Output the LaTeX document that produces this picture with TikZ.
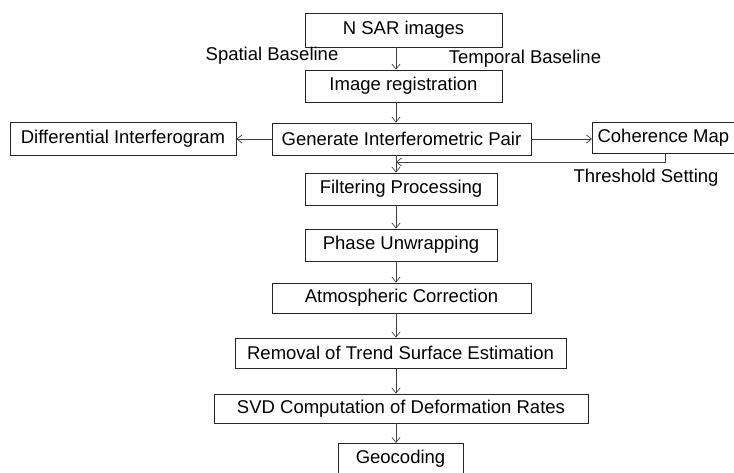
\documentclass[tikz,border=0pt]{standalone}
\usepackage{fontspec}
\setmainfont{Liberation Sans}
\usetikzlibrary{arrows.meta}
\begin{document}
\begin{tikzpicture}[x=1pt,y=-1pt,
  box/.style={draw=black!85,line width=0.8pt,inner sep=0pt,font=\fontsize{18.5}{20}\selectfont},
  lbl/.style={inner sep=0pt,font=\fontsize{18.5}{20}\selectfont},
  arr/.style={draw=black!75,line width=0.7pt,-{Straight Barb[length=5pt,width=8pt,line width=0.7pt]}}]
\useasboundingbox (0,0) rectangle (734,472);
\node[box,minimum width=197pt,minimum height=34pt] (n1) at (403.5,30) {N SAR images};
\node[box,minimum width=197pt,minimum height=32pt] (n2) at (403.5,86) {Image registration};
\node[box,minimum width=259pt,minimum height=32pt] (n3) at (401.5,139) {Generate Interferometric Pair};
\node[box,minimum width=226pt,minimum height=33pt] (dl) at (123,138.5) {Differential Interferogram};
\node[box,minimum width=142pt,minimum height=31pt,anchor=west] (cm) at (592,137.5) {Coherence Map};
\node[box,minimum width=192pt,minimum height=32pt] (n4) at (401,189) {Filtering Processing};
\node[box,minimum width=192pt,minimum height=32pt] (n5) at (401,245) {Phase Unwrapping};
\node[box,minimum width=259pt,minimum height=30pt] (n6) at (401.5,298) {Atmospheric Correction};
\node[box,minimum width=331pt,minimum height=30pt] (n7) at (400.5,353) {Removal of Trend Surface Estimation};
\node[box,minimum width=374pt,minimum height=29pt] (n8) at (401,408.5) {SVD Computation of Deformation Rates};
\node[box,minimum width=125pt,minimum height=30pt,anchor=north] (n9) at (400.5,443) {Geocoding};
\node[lbl] (sb) at (272,56) {Spatial Baseline};
\node[lbl] (tb) at (525,59) {Temporal Baseline};
\node[lbl] (ts) at (646,178) {Threshold Setting};
\coordinate (cx) at (396,0);
\draw[arr] (n1.south -| cx) -- (n2.north -| cx);
\draw[arr] (n2.south -| cx) -- (n3.north -| cx);
\draw[arr] (n3.west) -- (n3.west -| dl.east);
\draw[arr] (n3.east) -- (n3.east -| cm.west);
\draw[arr] (n3.south -| cx) -- (n4.north -| cx);
\coordinate (fb) at (665,162);
\draw[arr] (cm.south -| fb) -- (fb) -- (fb -| cx);
\draw[arr] (n4.south -| cx) -- (n5.north -| cx);
\draw[arr] (n5.south -| cx) -- (n6.north -| cx);
\draw[arr] (n6.south -| cx) -- (n7.north -| cx);
\draw[arr] (n7.south -| cx) -- (n8.north -| cx);
\draw[arr] (n8.south -| cx) -- (n9.north -| cx);
\end{tikzpicture}
\end{document}
